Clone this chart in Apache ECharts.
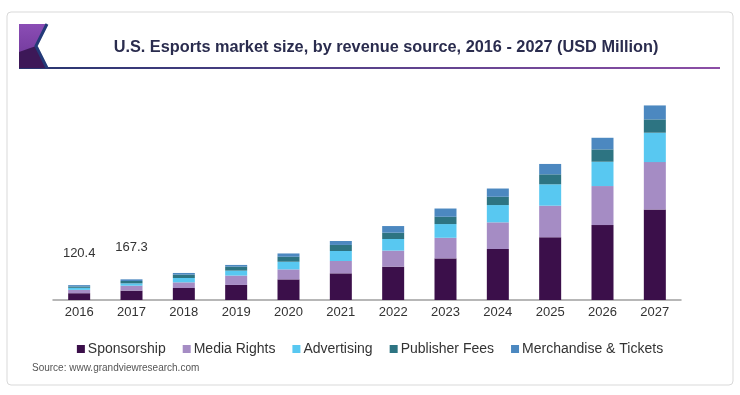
<!DOCTYPE html>
<html>
<head>
<meta charset="utf-8">
<script src="https://cdn.jsdelivr.net/npm/echarts@6/dist/echarts.min.js"></script>
<style>
html,body{margin:0;padding:0;background:#fff;}
#main{width:740px;height:395px;}
</style>
</head>
<body>
<div id="main"></div>
<script>
var years = ['2016','2017','2018','2019','2020','2021','2022','2023','2024','2025','2026','2027'];
var sponsorship   = [55, 76, 97, 122, 167, 216, 270, 337, 413, 508, 607, 734];
var mediaRights   = [27, 40, 46, 76, 81, 100, 130, 167, 216, 256, 316, 383];
var advertising   = [16.5, 19, 35, 40, 62, 81, 94, 111, 140, 173, 197, 238];
var publisherFees = [11, 19, 27, 32, 40, 49, 51, 59, 67, 81, 100, 108];
var merchandise   = [11, 13.3, 14, 14, 27, 32, 54, 67, 67, 84, 94, 113];
var totalLabels   = ['120.4', '167.3'];

var seriesNames = ['Sponsorship', 'Media Rights', 'Advertising', 'Publisher Fees', 'Merchandise & Tickets'];
var seriesData = [sponsorship, mediaRights, advertising, publisherFees, merchandise];
var colors = ['#3b0f4a', '#a58cc4', '#58c8f1', '#2d7482', '#4c88c0'];

var FONT = 'Liberation Sans, Arial, Helvetica, sans-serif';

var series = seriesNames.map(function (name, si) {
  var data = seriesData[si].map(function (v, i) {
    if (si === seriesNames.length - 1 && i < totalLabels.length) {
      return {
        value: v,
        label: {
          show: true,
          position: 'top',
          offset: [0, -20],
          formatter: totalLabels[i],
          color: '#333',
          fontSize: 13,
          fontFamily: FONT
        }
      };
    }
    return v;
  });
  return {
    name: name,
    type: 'bar',
    stack: 'total',
    barWidth: 22,
    itemStyle: { color: colors[si] },
    emphasis: { disabled: true },
    data: data
  };
});

var chart = echarts.init(document.getElementById('main'), null, { renderer: 'canvas' });
chart.setOption({
  backgroundColor: '#fff',
  animation: false,
  color: colors,
  title: {
    text: 'U.S. Esports market size, by revenue source, 2016 - 2027 (USD Million)',
    left: 381,
    textAlign: 'center',
    top: 35,
    textStyle: { fontFamily: FONT, fontSize: 16.3, fontWeight: 'bold', color: '#2a2c4e' }
  },
  legend: {
    data: seriesNames,
    left: 'center',
    top: 337,
    icon: 'rect',
    itemWidth: 8,
    itemHeight: 8,
    itemGap: 17,
    textStyle: { fontFamily: FONT, fontSize: 14, color: '#333', padding: [0, 0, 0, -2] }
  },
  grid: { left: 53, right: 59, top: 100, bottom: 95 },
  xAxis: {
    type: 'category',
    data: years,
    axisLine: { lineStyle: { color: '#a0a0a0', width: 1.5 } },
    axisTick: { show: false },
    axisLabel: { color: '#333', fontSize: 13, fontFamily: FONT, margin: 6 }
  },
  yAxis: {
    type: 'value',
    min: 0,
    max: 1620,
    show: false,
    splitLine: { show: false }
  },
  graphic: [
    {
      type: 'rect', z: -10,
      shape: { x: 7, y: 12, width: 726, height: 373, r: 4 },
      style: { fill: '#fff', stroke: '#d9d9d9', lineWidth: 1 }
    },
    {
      type: 'polygon', z: 5,
      shape: { points: [[19, 24], [47, 24], [36, 46], [47, 68], [19, 68]] },
      style: {
        fill: {
          type: 'linear', x: 0, y: 0, x2: 0, y2: 1,
          colorStops: [{ offset: 0, color: '#8b4db5' }, { offset: 1, color: '#6a3494' }]
        }
      }
    },
    {
      type: 'polygon', z: 6,
      shape: { points: [[19, 68], [19, 52], [36, 46], [47, 68]] },
      style: { fill: '#3d1858' }
    },
    {
      type: 'polyline', z: 7,
      shape: { points: [[47, 24], [36, 46], [47, 68]] },
      style: { stroke: '#233a78', lineWidth: 3, fill: null }
    },
    {
      type: 'rect', z: 5,
      shape: { x: 19, y: 67, width: 701, height: 2 },
      style: {
        fill: {
          type: 'linear', x: 0, y: 0, x2: 1, y2: 0,
          colorStops: [{ offset: 0, color: '#27356f' }, { offset: 1, color: '#8c4ea6' }]
        }
      }
    },
    {
      type: 'text', z: 5,
      x: 32, y: 363,
      style: { text: 'Source: www.grandviewresearch.com', fill: '#555', fontSize: 10, fontFamily: FONT }
    }
  ],
  series: series
});
</script>
</body>
</html>
